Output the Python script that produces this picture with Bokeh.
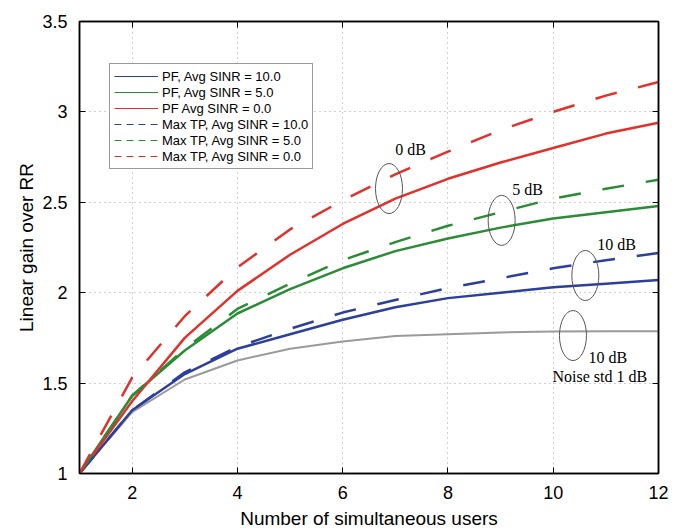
from bokeh.plotting import figure
from bokeh.models import (LinearAxis, FixedTicker, NumeralTickFormatter, Legend,
                          LegendItem, Range1d, Label, CustomJSTickFormatter)
from bokeh.embed import file_html
from bokeh.resources import INLINE

# number of simultaneous users
users = [1, 2, 3, 4, 5, 6, 7, 8, 9, 10, 11, 12]

# proportional fair scheduler, gain over round robin
pf_sinr10 = [1.0, 1.35, 1.55, 1.69, 1.77, 1.85, 1.92, 1.97, 2.00, 2.03, 2.05, 2.07]
pf_sinr5 = [1.0, 1.43, 1.68, 1.885, 2.02, 2.135, 2.23, 2.30, 2.36, 2.41, 2.445, 2.48]
pf_sinr0 = [1.0, 1.40, 1.75, 2.01, 2.21, 2.38, 2.52, 2.63, 2.72, 2.80, 2.88, 2.94]

# max throughput scheduler, gain over round robin
mt_sinr10 = [1.0, 1.35, 1.56, 1.70, 1.80, 1.89, 1.96, 2.025, 2.08, 2.135, 2.18, 2.22]
mt_sinr5 = [1.0, 1.43, 1.69, 1.91, 2.05, 2.18, 2.28, 2.37, 2.445, 2.52, 2.575, 2.625]
mt_sinr0 = [1.0, 1.53, 1.87, 2.14, 2.35, 2.51, 2.655, 2.78, 2.90, 3.00, 3.09, 3.165]

# PF at 10 dB with 1 dB noise std on the channel estimate
pf_sinr10_noise = [1.0, 1.34, 1.52, 1.625, 1.69, 1.73, 1.76, 1.77, 1.78, 1.785, 1.787, 1.787]

x_ticks = [2, 4, 6, 8, 10, 12]
y_ticks = [1.0, 1.5, 2.0, 2.5, 3.0, 3.5]

legend_labels = ["PF, Avg SINR = 10.0", "PF, Avg SINR = 5.0", "PF Avg SINR = 0.0",
                 "Max TP, Avg SINR = 10.0", "Max TP, Avg SINR = 5.0", "Max TP, Avg SINR = 0.0"]

RED = "#E2302B"
GREEN = "#2A8C35"
BLUE = "#2C3F9C"
GRAY = "#9A9A9A"
SANS = "Liberation Sans"
SERIF = "Liberation Serif"
NAN = float("nan")

p = figure(width=680, height=531, x_range=Range1d(1, 12), y_range=Range1d(1, 3.5),
           output_backend="svg", toolbar_location=None,
           min_border_left=79, min_border_right=22, min_border_top=21, min_border_bottom=58)
p.background_fill_color = "white"
p.border_fill_color = "white"
p.outline_line_color = "black"
p.outline_line_width = 1.5

for ax in (p.xaxis[0], p.yaxis[0]):
    ax.major_tick_in = 6
    ax.major_tick_out = 0
    ax.minor_tick_line_color = None
    ax.axis_line_color = "black"
    ax.axis_line_width = 1.5
    ax.major_label_text_font = SANS
    ax.major_label_text_font_size = "18px"
    ax.major_label_text_color = "black"
    ax.axis_label_text_font = SANS
    ax.axis_label_text_font_size = "19px"
    ax.axis_label_text_font_style = "normal"
    ax.axis_label_text_color = "black"
    ax.formatter = NumeralTickFormatter(format="0.[0]")

p.xaxis.ticker = FixedTicker(ticks=x_ticks)
p.yaxis.ticker = FixedTicker(ticks=y_ticks)
p.xaxis.axis_label = "Number of simultaneous users"
p.yaxis.axis_label = "Linear gain over RR"
p.xaxis.major_label_standoff = 12
p.xaxis.axis_label_standoff = 6
p.yaxis.major_label_standoff = 12
p.yaxis.axis_label_standoff = 2

# tick marks on the top and right borders, without labels
blank = CustomJSTickFormatter(code="return ''")
top = LinearAxis(ticker=FixedTicker(ticks=x_ticks), formatter=blank,
                 major_tick_in=6, major_tick_out=0, minor_tick_line_color=None,
                 major_label_standoff=0, axis_line_width=1.5)
right = LinearAxis(ticker=FixedTicker(ticks=y_ticks), formatter=blank,
                   major_tick_in=6, major_tick_out=0, minor_tick_line_color=None,
                   major_label_standoff=0, axis_line_width=1.5)
p.add_layout(top, "above")
p.add_layout(right, "right")

p.xgrid.ticker = FixedTicker(ticks=x_ticks)
p.ygrid.ticker = FixedTicker(ticks=y_ticks)
p.grid.grid_line_color = "#A0A0A0"
p.grid.grid_line_dash = "1 4"
p.grid.grid_line_width = 1

# curves
p.line(users, pf_sinr10_noise, line_color=GRAY, line_width=2)
p.line(users, pf_sinr10, line_color=BLUE, line_width=2.5)
p.line(users, pf_sinr5, line_color=GREEN, line_width=2.5)
p.line(users, pf_sinr0, line_color=RED, line_width=2.5)
p.line(users, mt_sinr10, line_color=BLUE, line_width=2.5, line_dash="22 22")
p.line(users, mt_sinr5, line_color=GREEN, line_width=2.5, line_dash="22 22")
p.line(users, mt_sinr0, line_color=RED, line_width=2.5, line_dash="22 22")

# thin legend keys (proxies that draw nothing in the frame)
styles = [(BLUE, "solid"), (GREEN, "solid"), (RED, "solid"),
          (BLUE, "7 5"), (GREEN, "7 5"), (RED, "7 5")]
items = []
for label, (color, dash) in zip(legend_labels, styles):
    key = p.line(x=[NAN], y=[NAN], line_color=color, line_width=1, line_dash=dash)
    items.append(LegendItem(label=label, renderers=[key]))

legend = Legend(items=items, location=(30, 304), orientation="vertical",
                label_text_font=SANS, label_text_font_size="13px",
                label_text_color="black", label_height=16, glyph_height=16,
                glyph_width=44, label_standoff=4, spacing=0, padding=4, margin=0,
                border_line_color="#333333", border_line_width=1,
                background_fill_color="white", background_fill_alpha=1)
p.add_layout(legend, "center")

# SINR group markers
p.ellipse(x=[6.88, 9.02, 10.61, 10.375], y=[2.576, 2.40, 2.095, 1.763],
          width=27, height=50, width_units="screen", height_units="screen",
          fill_color=None, line_color="#555555", line_width=1)

notes = [(7.0, 2.79, "0 dB"), (9.22, 2.571, "5 dB"), (10.835, 2.264, "10 dB"),
         (10.67, 1.639, "10 dB"), (9.985, 1.536, "Noise std 1 dB")]
for nx, ny, txt in notes:
    p.add_layout(Label(x=nx, y=ny, text=txt, text_font=SERIF, text_font_size="16px",
                       text_baseline="middle", text_align="left", text_color="black"))

open("out.html", "w").write(file_html(p, INLINE))
